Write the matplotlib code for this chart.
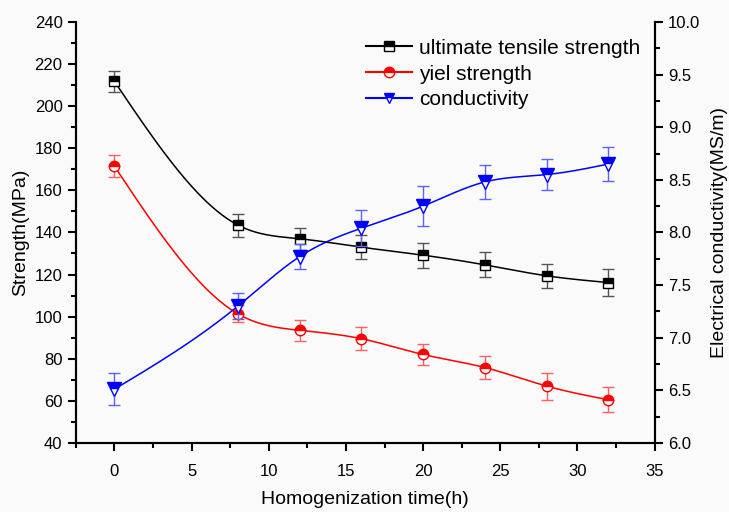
import numpy as np
import matplotlib.pyplot as plt
from matplotlib.ticker import MultipleLocator, FormatStrFormatter

plt.rcParams['font.family'] = ['Liberation Sans', 'DejaVu Sans']

# data
time_h = [0, 8, 12, 16, 20, 24, 28, 32]
uts = [211.8, 143.5, 137.0, 133.0, 129.2, 124.6, 119.4, 116.2]
uts_err = [5.0, 5.5, 5.2, 5.6, 6.0, 6.0, 5.8, 6.4]
ys = [171.5, 101.3, 93.5, 89.5, 82.0, 75.8, 67.0, 60.5]
ys_err = [5.2, 4.0, 5.0, 5.5, 5.0, 5.6, 6.4, 6.0]
cond = [6.51, 7.30, 7.77, 8.04, 8.25, 8.48, 8.55, 8.65]
cond_err = [0.15, 0.12, 0.12, 0.17, 0.19, 0.16, 0.15, 0.16]


def spline(x, y, n=300):
    # natural cubic spline for the smooth connecting line
    x = np.asarray(x, float)
    y = np.asarray(y, float)
    N = len(x)
    h = np.diff(x)
    A = np.zeros((N, N))
    b = np.zeros(N)
    A[0, 0] = 1
    A[-1, -1] = 1
    for i in range(1, N - 1):
        A[i, i - 1] = h[i - 1]
        A[i, i] = 2 * (h[i - 1] + h[i])
        A[i, i + 1] = h[i]
        b[i] = 6 * ((y[i + 1] - y[i]) / h[i] - (y[i] - y[i - 1]) / h[i - 1])
    M = np.linalg.solve(A, b)
    xs = np.linspace(x[0], x[-1], n)
    k = np.clip(np.searchsorted(x, xs) - 1, 0, N - 2)
    t1 = x[k + 1] - xs
    t0 = xs - x[k]
    hk = h[k]
    out = (M[k] * t1**3 / (6 * hk) + M[k + 1] * t0**3 / (6 * hk)
           + (y[k] / hk - M[k] * hk / 6) * t1
           + (y[k + 1] / hk - M[k + 1] * hk / 6) * t0)
    return xs, out


fig = plt.figure(figsize=(7.29, 5.12), dpi=100)
fig.patch.set_facecolor('#fafafa')
ax = fig.add_axes([0.104, 0.135, 0.794, 0.822])
ax.set_facecolor('#fafafa')
ax2 = ax.twinx()

mk = dict(markersize=7.5, fillstyle='top', markerfacecoloralt='white',
          markeredgewidth=1.0)

# ultimate tensile strength
sx, sy = spline(time_h, uts)
ax.plot(sx, sy, color='black', lw=1.1, zorder=2)
ax.errorbar(time_h, uts, yerr=uts_err, fmt='none', ecolor='#555555',
            elinewidth=1.0, capsize=4, zorder=3)
ax.plot(time_h, uts, 's', color='black', markeredgecolor='black', zorder=4, **mk)

# yield strength
sx, sy = spline(time_h, ys)
ax.plot(sx, sy, color='red', lw=1.1, zorder=2)
ax.errorbar(time_h, ys, yerr=ys_err, fmt='none', ecolor='#ff6060',
            elinewidth=1.0, capsize=4, zorder=3)
ax.plot(time_h, ys, 'o', color='red', markeredgecolor='red', zorder=4, **mk)

# conductivity
sx, sy = spline(time_h, cond)
ax2.plot(sx, sy, color='blue', lw=1.1, zorder=2)
ax2.errorbar(time_h, cond, yerr=cond_err, fmt='none', ecolor='#6060ff',
             elinewidth=1.0, capsize=4, zorder=3)
ax2.plot(time_h, cond, 'v', color='blue', markeredgecolor='blue', zorder=4,
         markersize=9.5, fillstyle='top', markerfacecoloralt='white',
         markeredgewidth=1.0)

ax.set_xlim(-2.5, 35)
ax.set_ylim(40, 240)
ax2.set_ylim(6.0, 10.0)

ax.xaxis.set_major_locator(MultipleLocator(5))
ax.xaxis.set_minor_locator(MultipleLocator(2.5))
ax.yaxis.set_major_locator(MultipleLocator(20))
ax.yaxis.set_minor_locator(MultipleLocator(10))
ax2.yaxis.set_major_locator(MultipleLocator(0.5))
ax2.yaxis.set_minor_locator(MultipleLocator(0.25))
ax2.yaxis.set_major_formatter(FormatStrFormatter('%.1f'))

for a in (ax, ax2):
    a.spines['top'].set_visible(False)
    for s in a.spines.values():
        s.set_linewidth(1.5)
    a.tick_params(which='major', direction='out', length=6, width=1.5,
                  labelsize=12)
    a.tick_params(which='minor', direction='out', length=3.5, width=1.5)
ax.tick_params(axis='x', pad=9)

ax.set_xlabel('Homogenization time(h)', fontsize=14, labelpad=9)
ax.set_ylabel('Strength(MPa)', fontsize=14, labelpad=4)
ax2.set_ylabel('Electrical conductivity(MS/m)', fontsize=14, labelpad=8)

# legend
h1, = ax.plot([], [], '-s', color='black', markeredgecolor='black', **mk)
h2, = ax.plot([], [], '-o', color='red', markeredgecolor='red', **mk)
h3, = ax.plot([], [], '-v', color='blue', markeredgecolor='blue', **mk)
ax.legend([h1, h2, h3], ['ultimate tensile strength', 'yiel strength',
                         'conductivity'],
          loc='upper right', bbox_to_anchor=(1.0, 0.995), frameon=False,
          fontsize=15, handlelength=2.2, labelspacing=0.33, handletextpad=0.35,
          borderaxespad=0.3)

fig.savefig('out.png', dpi=100, facecolor=fig.get_facecolor())
